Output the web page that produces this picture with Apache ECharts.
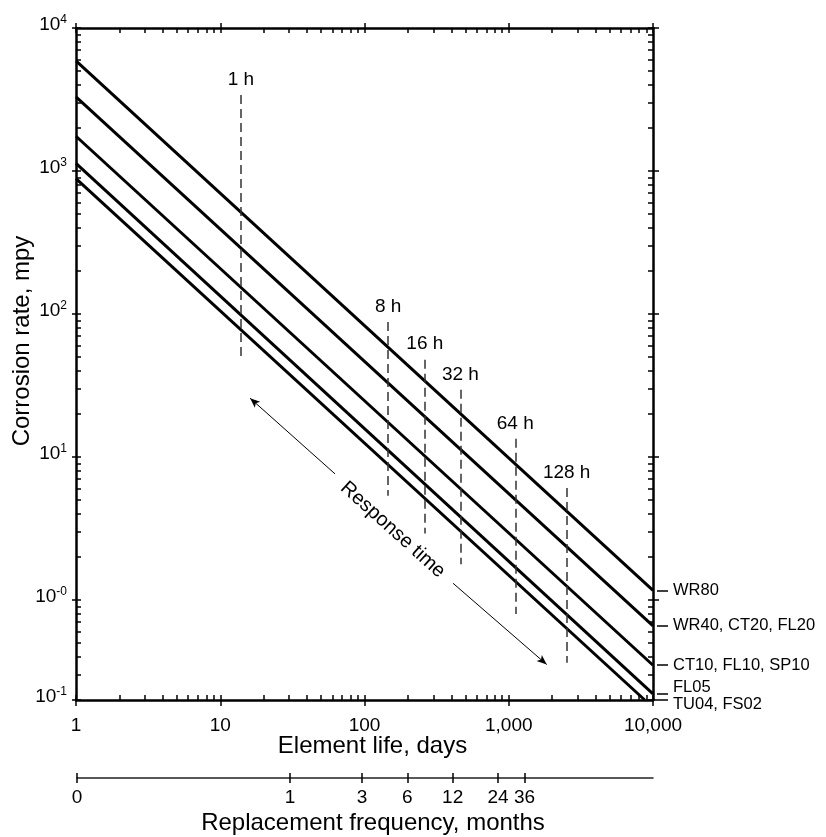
<!DOCTYPE html>
<html><head><meta charset="utf-8">
<script src="https://cdn.jsdelivr.net/npm/echarts@6/dist/echarts.min.js"></script>
<style>html,body{margin:0;padding:0;background:#fff}#c{width:826px;height:837px}</style>
</head><body><div id="c"></div>
<script>
// ---------- data ----------
const SERIES_NAMES = ['WR80', 'WR40, CT20, FL20', 'CT10, FL10, SP10', 'FL05', 'TU04, FS02'];
const LINE_START_DAYS = [1, 1, 1, 1, 1];
const LINE_START_RATE = [5900, 3300, 1750, 1130, 886];
const LINE_END_DAYS = [10000, 10000, 10000, 10000, 8770];
const LINE_END_RATE = [1.17, 0.66, 0.35, 0.221, 0.2];
const LABEL_ANCHOR_RATE = [1.17, 0.66, 0.35, 0.221, 0.2];

const RESPONSE_LABELS = ['1 h', '8 h', '16 h', '32 h', '64 h', '128 h'];
const RESPONSE_DAYS = [13.9, 146, 262, 462, 1110, 2520];
const RESPONSE_TOP = [3400, 87.8, 47.9, 29.5, 13.4, 6.08];
const RESPONSE_BOTTOM = [50.5, 5.37, 2.92, 1.78, 0.80, 0.365];

const ARROW_UP_FROM = [62.5, 7.62];
const ARROW_UP_TO = [16.1, 25.8];
const ARROW_DOWN_FROM = [411, 1.31];
const ARROW_DOWN_TO = [1834, 0.354];
const ARROW_TEXT = 'Response time';
const ARROW_TEXT_AT = [157, 3.1];

const X_LABEL_VALUES = [1, 10, 100, 1000, 10000];
const X_LABELS = ['1', '10', '100', '1,000', '10,000'];
const Y_LABEL_VALUES = [0.2, 1, 10, 100, 1000, 10000];
const Y_LABEL_EXP = ['-1', '-0', '1', '2', '3', '4'];
const MONTH_TICK_VALUES = [1, 3, 6, 12, 24, 36];
const MONTH_LABELS = ['1', '3', '6', '12', '24', '36'];
const MONTH_ZERO_LABEL = '0';
const MONTH_AXIS_MIN = 0.0385;   // left end of the months scale (labelled 0)
const MONTH_AXIS_MAX = 256.6;

const X_MIN = 1, X_MAX = 10000, Y_MIN = 0.2, Y_MAX = 10000;

// ---------- helpers ----------
const FONT = 'Liberation Sans, Arial, Helvetica, sans-serif';
function nearestIndex(arr, v) {
  let best = 0, bd = Infinity;
  arr.forEach((a, i) => { const d = Math.abs(Math.log(a) - Math.log(v)); if (d < bd) { bd = d; best = i; } });
  return best;
}
const X_TICKS = [];
for (let d = 1; d < 10000; d *= 10) for (let m = 1; m < 10; m++) X_TICKS.push(m * d);
X_TICKS.push(10000);
const Y_TICKS = [];
for (let m = 2; m < 10; m++) Y_TICKS.push(m / 10);
for (let d = 1; d < 10000; d *= 10) for (let m = 1; m < 10; m++) Y_TICKS.push(m * d);
Y_TICKS.push(10000);

function baseAxis(o) {
  return Object.assign({
    type: 'log', logBase: 10, splitLine: { show: false }, minorTick: { show: false },
    axisLine: { show: false }, axisTick: { show: false }, axisLabel: { show: false }, silent: true,
    nameMoveOverlap: false
  }, o);
}
const LINE = { show: true, lineStyle: { color: '#000', width: 2.5 } };
const tickIn = (vals, len) => ({ show: true, inside: true, length: len, customValues: vals, lineStyle: { color: '#000', width: 1.5 } });
const tickOut = (vals, len) => ({ show: true, inside: false, length: len, customValues: vals, lineStyle: { color: '#000', width: 1.5 } });
const LBL = { show: true, showMinLabel: true, showMaxLabel: true, hideOverlap: false, color: '#000', fontFamily: FONT };

const MONTH_ALL = [MONTH_AXIS_MIN].concat(MONTH_TICK_VALUES);

// right-hand series labels: split over two axes so close labels are not dropped
function seriesLabelAxis(indices) {
  const vals = indices.map(i => LABEL_ANCHOR_RATE[i]);
  return baseAxis({ gridIndex: 0, position: 'right', offset: 4, min: Y_MIN, max: Y_MAX, axisTick: tickOut(vals, 11),
    axisLabel: Object.assign({}, LBL, { customValues: vals, margin: 16, fontSize: 16.5,
      formatter: v => { const i = indices[nearestIndex(vals, v)]; const st = i === 3 ? 'u' : (i === 4 ? 'd' : 'n'); return '{' + st + '|' + SERIES_NAMES[i] + '}'; },
      rich: {
        n: { fontSize: 16.5, fontFamily: FONT, color: '#000' },
        u: { fontSize: 16.5, fontFamily: FONT, color: '#000', padding: [0, 0, 13, 0] },
        d: { fontSize: 16.5, fontFamily: FONT, color: '#000', padding: [8, 0, 0, 0] }
      } }) });
}

const xAxes = [
  baseAxis({ gridIndex: 0, position: 'bottom', min: X_MIN, max: X_MAX, axisLine: LINE, axisTick: tickIn(X_TICKS, 5),
    axisLabel: Object.assign({}, LBL, { customValues: X_LABEL_VALUES, margin: 16, fontSize: 19,
      formatter: v => X_LABELS[nearestIndex(X_LABEL_VALUES, v)] }),
    name: 'Element life, days', nameLocation: 'middle', nameGap: 34,
    nameTextStyle: { fontSize: 24, color: '#000', fontFamily: FONT, padding: [0, 0, 0, 16] } }),
  baseAxis({ gridIndex: 0, position: 'bottom', min: X_MIN, max: X_MAX, axisTick: tickOut(X_LABEL_VALUES, 6) }),
  baseAxis({ gridIndex: 0, position: 'top', min: X_MIN, max: X_MAX, axisLine: LINE, axisTick: tickIn(X_TICKS, 5) }),
  baseAxis({ gridIndex: 0, position: 'top', min: X_MIN, max: X_MAX, axisTick: tickOut(X_LABEL_VALUES, 5) }),
  baseAxis({ gridIndex: 1, position: 'bottom', min: MONTH_AXIS_MIN, max: MONTH_AXIS_MAX,
    axisLine: { show: true, lineStyle: { color: '#222', width: 1.5 } },
    axisTick: tickOut(MONTH_ALL, 5),
    axisLabel: Object.assign({}, LBL, { customValues: MONTH_ALL, margin: 10, fontSize: 19,
      formatter: v => { const i = nearestIndex(MONTH_ALL, v); return i === 0 ? MONTH_ZERO_LABEL : MONTH_LABELS[i - 1]; } }),
    name: 'Replacement frequency, months', nameLocation: 'middle', nameGap: 33,
    nameTextStyle: { fontSize: 24, color: '#000', fontFamily: FONT, padding: [0, 0, 0, 16] } }),
  baseAxis({ gridIndex: 1, position: 'bottom', min: MONTH_AXIS_MIN, max: MONTH_AXIS_MAX,
    axisTick: tickIn(MONTH_ALL, 5) })
];

const yAxes = [
  baseAxis({ gridIndex: 0, position: 'left', min: Y_MIN, max: Y_MAX, axisLine: LINE, axisTick: tickIn(Y_TICKS, 5),
    axisLabel: Object.assign({}, LBL, { customValues: Y_LABEL_VALUES, margin: 9,
      verticalAlign: 'middle', padding: [0, 0, 8, 0],
      formatter: v => '{b|10}{s|' + Y_LABEL_EXP[nearestIndex(Y_LABEL_VALUES, v)] + '}',
      rich: {
        b: { fontSize: 19, lineHeight: 20, verticalAlign: 'bottom', fontFamily: FONT, color: '#000' },
        s: { fontSize: 12, lineHeight: 12, verticalAlign: 'top', padding: [0, 0, 14, 0], fontFamily: FONT, color: '#000' }
      } }),
    name: 'Corrosion rate, mpy', nameLocation: 'middle', nameGap: 42,
    nameTextStyle: { fontSize: 24, color: '#000', fontFamily: FONT, padding: [0, 0, 0, 46] } }),
  baseAxis({ gridIndex: 0, position: 'left', min: Y_MIN, max: Y_MAX, axisTick: tickOut(Y_LABEL_VALUES, 4) }),
  baseAxis({ gridIndex: 0, position: 'right', min: Y_MIN, max: Y_MAX, axisLine: LINE, axisTick: tickIn(Y_TICKS, 5) }),
  baseAxis({ gridIndex: 0, position: 'right', min: Y_MIN, max: Y_MAX, axisTick: tickOut(Y_LABEL_VALUES, 6) }),
  seriesLabelAxis([0, 1, 2, 4]),
  seriesLabelAxis([3]),
  { type: 'value', gridIndex: 1, show: false }
];

const series = SERIES_NAMES.map((n, i) => ({
  type: 'line', name: n, xAxisIndex: 0, yAxisIndex: 0, symbol: 'none', showSymbol: false, silent: true,
  emphasis: { disabled: true }, lineStyle: { color: '#000', width: 3 },
  data: [[LINE_START_DAYS[i], LINE_START_RATE[i]], [LINE_END_DAYS[i], LINE_END_RATE[i]]]
}));

const markLineData = RESPONSE_LABELS.map((l, i) => [
  { coord: [RESPONSE_DAYS[i], RESPONSE_TOP[i]], name: l },
  { coord: [RESPONSE_DAYS[i], RESPONSE_BOTTOM[i]] }
]);
const arrowStyle = { type: 'solid', width: 1, color: '#000' };
markLineData.push([
  { coord: ARROW_UP_FROM, symbol: 'none', lineStyle: arrowStyle, label: { show: false } },
  { coord: ARROW_UP_TO, symbol: 'arrow', symbolSize: [6, 10] }
]);
markLineData.push([
  { coord: ARROW_DOWN_FROM, symbol: 'none', lineStyle: arrowStyle, label: { show: false } },
  { coord: ARROW_DOWN_TO, symbol: 'arrow', symbolSize: [6, 10] }
]);

series[0].markLine = {
  silent: true, animation: false, symbol: ['none', 'none'],
  lineStyle: { type: [9, 5], color: '#333', width: 1.5 },
  label: { show: true, position: 'start', formatter: '{b}', fontSize: 19, color: '#000', fontFamily: FONT, distance: 6 },
  emphasis: { disabled: true },
  data: markLineData
};
series[0].markPoint = {
  silent: true, animation: false, symbol: 'circle', symbolSize: 0,
  data: [{ coord: ARROW_TEXT_AT, name: ARROW_TEXT,
    label: { show: true, position: 'inside', formatter: '{b}', rotate: -42, fontSize: 20, color: '#000', fontFamily: FONT } }]
};

const chart = echarts.init(document.getElementById('c'), null, { renderer: 'canvas' });
chart.setOption({
  animation: false,
  backgroundColor: '#fff',
  textStyle: { fontFamily: FONT },
  grid: [
    { left: 76, top: 28, width: 577, height: 672, outerBoundsMode: 'none', containLabel: false },
    { left: 77, top: 777, width: 576, height: 1, outerBoundsMode: 'none', containLabel: false }
  ],
  xAxis: xAxes,
  yAxis: yAxes,
  series: series
});
</script></body></html>
